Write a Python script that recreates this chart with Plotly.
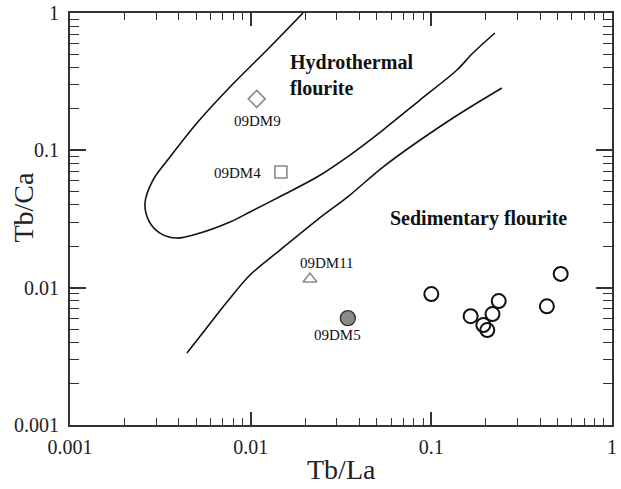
import math
import plotly.graph_objects as go

# ---- data ----
# hydrothermal field boundary (U-shaped curve)
hydro_x = [0.01948, 0.01279, 0.00768, 0.005043, 0.003576, 0.002879, 0.002601, 0.002736,
           0.003148, 0.003909, 0.00524, 0.00768, 0.00991, 0.01509, 0.02328, 0.03544,
           0.05397, 0.08647, 0.1386, 0.1699, 0.2249]
hydro_y = [1.0, 0.5653, 0.2891, 0.1581, 0.0894, 0.0608, 0.04132, 0.03056,
           0.02498, 0.02297, 0.02498, 0.03005, 0.03554, 0.04726, 0.0639, 0.0924,
           0.1405, 0.2325, 0.3845, 0.5115, 0.7152]
# sedimentary field boundary
sed_x = [0.00444, 0.005588, 0.00739, 0.00991, 0.01453, 0.02328, 0.03544, 0.05397, 0.1267, 0.2458]
sed_y = [0.003341, 0.004913, 0.007856, 0.01236, 0.01879, 0.03108, 0.04726, 0.0755, 0.1662, 0.2843]

# labelled samples
dm9 = (0.0108, 0.237)
dm4 = (0.0147, 0.0695)
dm11 = (0.0213, 0.01155)
dm5 = (0.0345, 0.0060)

# sedimentary fluorite samples (open circles)
sed_pts_x = [0.100, 0.165, 0.194, 0.204, 0.218, 0.236, 0.436, 0.52]
sed_pts_y = [0.00898, 0.0062, 0.00534, 0.00491, 0.00642, 0.00799, 0.00731, 0.0126]

major_vals = [0.001, 0.01, 0.1, 1]
major_text = ["0.001", "0.01", "0.1", "1"]
minor_vals = [m * d for d in [0.001, 0.01, 0.1] for m in range(2, 10)]

FONT = "Liberation Serif, Times New Roman, DejaVu Serif, serif"
GRAY = "#8a8a8a"
AX = "#333333"

fig = go.Figure()
fig.add_trace(go.Scatter(x=hydro_x, y=hydro_y, mode="lines",
                         line=dict(color="#111111", width=1.6, shape="spline", smoothing=0.9),
                         hoverinfo="skip"))
fig.add_trace(go.Scatter(x=sed_x, y=sed_y, mode="lines",
                         line=dict(color="#111111", width=1.6, shape="spline", smoothing=0.9),
                         hoverinfo="skip"))
fig.add_trace(go.Scatter(x=[dm9[0]], y=[dm9[1]], mode="markers",
                         marker=dict(symbol="diamond-open", size=13, color=GRAY, line=dict(width=1.6, color=GRAY))))
fig.add_trace(go.Scatter(x=[dm4[0]], y=[dm4[1]], mode="markers",
                         marker=dict(symbol="square-open", size=12, color=GRAY, line=dict(width=1.6, color=GRAY))))
fig.add_trace(go.Scatter(x=[dm11[0]], y=[dm11[1]], mode="markers",
                         marker=dict(symbol="triangle-up-open", size=12, color=GRAY, line=dict(width=1.6, color=GRAY))))
fig.add_trace(go.Scatter(x=[dm5[0]], y=[dm5[1]], mode="markers",
                         marker=dict(symbol="circle", size=15, color=GRAY, line=dict(width=1.4, color="#333333"))))
fig.add_trace(go.Scatter(x=sed_pts_x, y=sed_pts_y, mode="markers",
                         marker=dict(symbol="circle-open", size=14, color="#111111", line=dict(width=2, color="#111111"))))

def axis(major_len, minor_len):
    return dict(type="log", range=[-3, 0], tickmode="array", tickvals=major_vals, ticktext=major_text,
                ticks="inside", ticklen=major_len, tickwidth=1.6, tickcolor=AX,
                minor=dict(tickmode="array", tickvals=minor_vals, ticks="inside",
                           ticklen=minor_len, tickwidth=1.4, tickcolor=AX, showgrid=False),
                showline=True, linecolor=AX, linewidth=2, mirror="ticks",
                showgrid=False, zeroline=False, automargin=False,
                tickfont=dict(family=FONT, size=20, color="#222222"))

xa = axis(13, 7)
xa["ticklabelstandoff"] = 3
ya = axis(16, 9)
ya["ticklabelstandoff"] = 5

ann = []
def lab(text, x, y, size, xanchor="center", bold=False, align="left"):
    t = f"<b>{text}</b>" if bold else text
    ann.append(dict(text=t, x=math.log10(x), y=math.log10(y), xref="x", yref="y",
                    xanchor=xanchor, yanchor="middle", showarrow=False, align=align,
                    font=dict(family=FONT, size=size, color="#111111")))

lab("09DM9", 0.01084, 0.1634, 15)
lab("09DM4", 0.01169, 0.0684, 15, xanchor="right")
lab("09DM11", 0.02642, 0.01510, 15)
lab("09DM5", 0.03041, 0.00452, 15)
lab("Hydrothermal<br>flourite", 0.01607, 0.3535, 20, xanchor="left", bold=True)
lab("Sedimentary flourite", 0.05754, 0.03214, 20, xanchor="left", bold=True)

ann.append(dict(text="Tb/La", x=0.5, y=-0.108, xref="paper", yref="paper", xanchor="center",
                yanchor="middle", showarrow=False, font=dict(family=FONT, size=28, color="#222222")))
ann.append(dict(text="Tb/Ca", x=-0.085, y=0.53, xref="paper", yref="paper", xanchor="center",
                yanchor="middle", showarrow=False, textangle=-90,
                font=dict(family=FONT, size=28, color="#222222")))

fig.update_layout(width=621, height=489, margin=dict(l=70, r=9, t=13, b=64),
                  paper_bgcolor="white", plot_bgcolor="white", showlegend=False,
                  xaxis=xa, yaxis=ya, annotations=ann)

fig.write_html("out.html", config={"displayModeBar": False},
               post_script="document.body.style.margin='0';document.body.style.padding='0';")
